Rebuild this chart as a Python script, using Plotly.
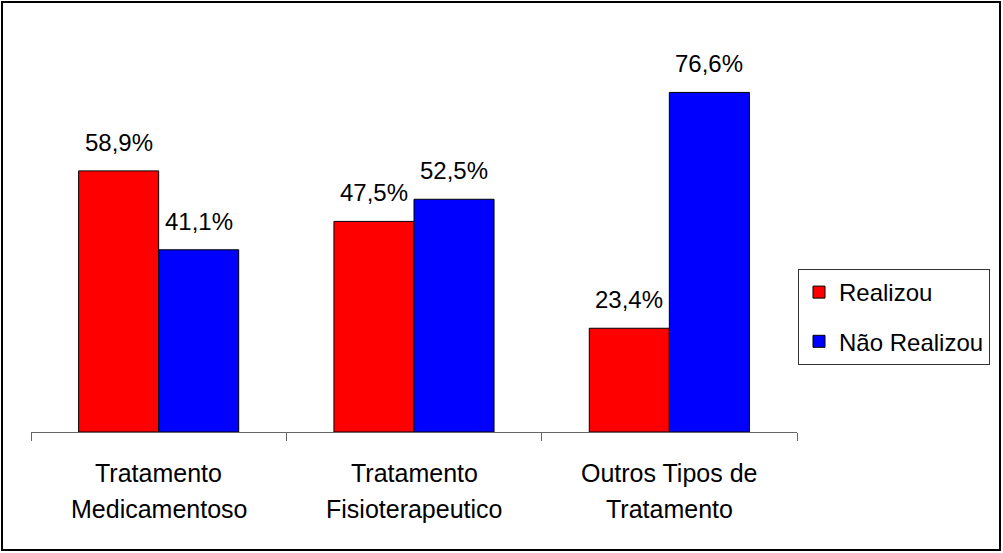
import plotly.graph_objects as go

# Share of patients by treatment type
categories = ["Tratamento Medicamentoso", "Tratamento Fisioterapeutico", "Outros Tipos de Tratamento"]
label_lines = [["Tratamento", "Medicamentoso"], ["Tratamento", "Fisioterapeutico"], ["Outros Tipos de", "Tratamento"]]
realizou = [58.9, 47.5, 23.4]
nao_realizou = [41.1, 52.5, 76.6]
series_names = ["Realizou", "Não Realizou"]
series_colors = ["#FF0000", "#0000FF"]

FONT = "Arial, Liberation Sans, sans-serif"
W, H = 1003, 553
ML, MR, MT, MB = 31, 206, 33, 121
PW, PH = W - ML - MR, H - MT - MB

fig = go.Figure()
for name, vals, col, grp in zip(series_names, [realizou, nao_realizou], series_colors, ["a", "b"]):
    fig.add_trace(go.Bar(
        x=categories, y=vals, name=name, legendgroup=grp,
        marker=dict(color=col, line=dict(color="black", width=1)),
    ))

annotations = []
# value labels above each bar
for vals, shift in [(realizou, -40), (nao_realizou, 40)]:
    for c, v in zip(categories, vals):
        annotations.append(dict(
            x=c, y=v, xref="x", yref="y", text=f"{v:.1f}%".replace(".", ","),
            showarrow=False, xshift=shift, yshift=13, yanchor="bottom",
            font=dict(family=FONT, size=24, color="black"),
        ))
# two-line category labels under the axis
for c, lines in zip(categories, label_lines):
    for i, line in enumerate(lines):
        annotations.append(dict(
            x=c, y=0, xref="x", yref="paper", text=line, showarrow=False,
            yanchor="top", yshift=-25 - 36 * i,
            font=dict(family=FONT, size=25, color="black"),
        ))

fig.update_layout(
    width=W, height=H,
    margin=dict(l=ML, r=MR, t=MT, b=MB, autoexpand=False),
    paper_bgcolor="white", plot_bgcolor="white",
    barmode="group", bargap=0.373, bargroupgap=0,
    font=dict(family=FONT, size=24, color="black"),
    showlegend=True,
    legend=dict(
        x=(798 - ML) / PW, y=(MT + PH - 269) / PH, xanchor="left", yanchor="top",
        bordercolor="#333333", borderwidth=1, bgcolor="white",
        font=dict(family=FONT, size=24, color="black"),
        tracegroupgap=15, traceorder="grouped",
    ),
    xaxis=dict(
        showticklabels=False, tickson="boundaries", ticks="outside", ticklen=8,
        tickcolor="#666666", showline=True, linecolor="#666666", linewidth=1,
        showgrid=False, zeroline=False,
    ),
    yaxis=dict(range=[0, 90], visible=False, showgrid=False, zeroline=False),
    annotations=annotations,
    shapes=[dict(
        type="rect", xref="paper", yref="paper",
        x0=(2 - ML) / PW, x1=(1000 - ML) / PW,
        y0=(MT + PH - 550) / PH, y1=(MT + PH - 2) / PH,
        line=dict(color="black", width=2), layer="above",
    )],
)

fig.write_html("out.html")
